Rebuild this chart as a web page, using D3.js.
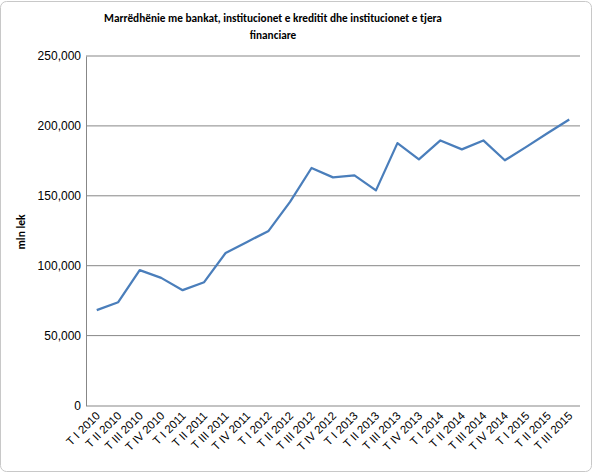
<!DOCTYPE html>
<html><head><meta charset="utf-8">
<script src="https://cdn.jsdelivr.net/npm/d3@7"></script>
<style>body{margin:0;background:#fff;}svg{display:block;font-family:Carlito,Calibri,Lato,"Open Sans",sans-serif;}</style>
</head><body><svg id="c" width="593" height="473"></svg>
<script>
const categories = ["T I 2010","T II 2010","T III 2010","T IV 2010","T I 2011","T II 2011","T III 2011","T IV 2011","T I 2012","T II 2012","T III 2012","T IV 2012","T I 2013","T II 2013","T III 2013","T IV 2013","T I 2014","T II 2014","T III 2014","T IV 2014","T I 2015","T II 2015","T III 2015"];
const values = [68200,73900,96800,91300,82500,88200,109100,117000,124900,145600,169900,163200,164600,153900,187700,176100,189600,183200,189600,175400,185000,194900,204600];
const yTicks = [0,50000,100000,150000,200000,250000];
const titleLines = ["Marrëdhënie me bankat, institucionet e kreditit dhe institucionet e tjera","financiare"];
const yTitle = "mln lek";

const svg = d3.select("#c");
const L=86, R=580, T=56, B=405.5;
svg.append("rect").attr("x",0.5).attr("y",1.5).attr("width",591).attr("height",470).attr("rx",6)
  .attr("fill","#fff").attr("stroke","#c8c8c8");

const x = d3.scaleBand().domain(categories).range([L,R]);
const y = d3.scaleLinear().domain([0,250000]).range([B,T]);

const g = svg.append("g");
g.selectAll("line.grid").data(yTicks.filter(d=>d>0)).join("line")
  .attr("x1",L).attr("x2",R).attr("y1",d=>y(d)).attr("y2",d=>y(d))
  .attr("stroke","#878787").attr("stroke-width",1);

const yAxis = d3.axisLeft(y).tickValues(yTicks).tickSize(0).tickPadding(5).tickFormat(d3.format(","));
const ya = svg.append("g").attr("transform",`translate(${L},0)`).call(yAxis);
ya.select(".domain").attr("stroke","#878787");
ya.selectAll("text").attr("font-size",12).attr("fill","#000");

const xAxis = d3.axisBottom(x).tickSize(0).tickPadding(0);
const xa = svg.append("g").attr("transform",`translate(0,${B})`).call(xAxis);
xa.select(".domain").attr("stroke","#878787").attr("d",`M${L},0.5H${R}`);
xa.selectAll("text").attr("font-size",11.5).attr("fill","#000")
  .attr("text-anchor","end").attr("dy",0)
  .attr("transform","translate(4,11) rotate(-45)");

const line = d3.line().x((d,i)=>x(categories[i])+x.bandwidth()/2).y(d=>y(d));
svg.append("path").datum(values).attr("d",line).attr("fill","none")
  .attr("stroke","#4a7ebb").attr("stroke-width",2.25).attr("stroke-linejoin","round");

svg.append("g").selectAll("text").data(titleLines).join("text")
  .attr("x",273).attr("y",(d,i)=>22+i*17).attr("text-anchor","middle")
  .attr("font-size",11.3).attr("font-weight","bold").text(d=>d);

svg.append("text").attr("transform","translate(25,232) rotate(-90)")
  .attr("text-anchor","middle").attr("font-size",11.5).attr("font-weight","bold").text(yTitle);
</script></body></html>
